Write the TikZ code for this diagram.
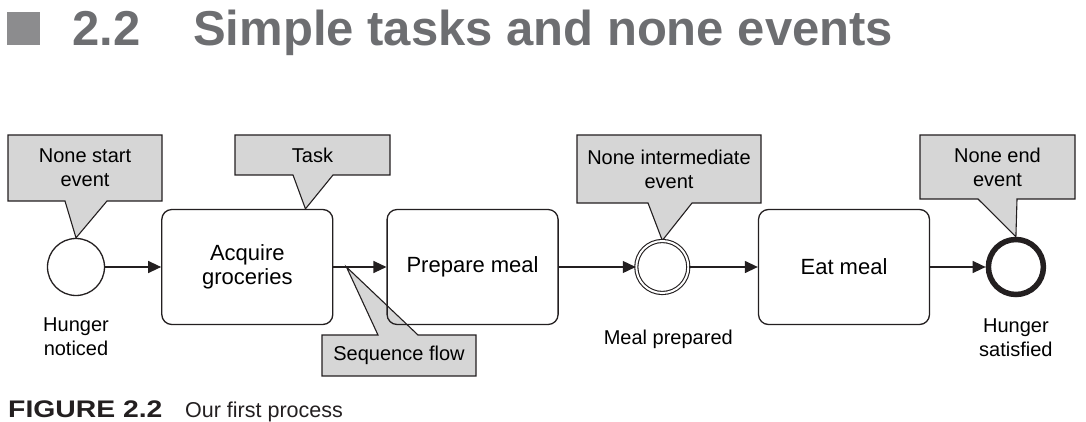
\documentclass[tikz,border=0pt]{standalone}
\usepackage{fontspec}
\setmainfont{Liberation Sans}
\newfontfamily\capbold[FakeStretch=1.18]{Liberation Sans Bold}
\usetikzlibrary{arrows.meta, positioning, backgrounds}
\usepackage{xcolor}

\definecolor{ink}{HTML}{231F20}
\definecolor{notegray}{HTML}{D6D6D6}
\definecolor{titlegray}{HTML}{6D6E71}
\definecolor{squaregray}{HTML}{8C8C8E}

\begin{document}
\begin{tikzpicture}[
        x=1pt, y=1pt,
        % Box styles
        taskbox/.style={rectangle, draw=ink, line width=1.3pt, rounded corners=10pt, minimum width=171pt, minimum height=115pt, align=center, font=\fontsize{22}{24.5}\selectfont},
        startev/.style={circle, draw=ink, line width=1.3pt, minimum size=57pt, inner sep=0pt},
        midev/.style={circle, draw=ink, line width=1.1pt, double, double distance=2pt, minimum size=52pt, inner sep=0pt},
        endev/.style={circle, draw=ink, line width=5.5pt, minimum size=55pt, inner sep=0pt},
        notebox/.style={rectangle, inner sep=0pt, outer sep=0pt, align=center, font=\fontsize{20}{24}\selectfont},
        notefill/.style={fill=notegray, draw=ink, line width=1.1pt, line join=miter},
        evlabel/.style={align=center, inner sep=0pt, font=\fontsize{20}{24}\selectfont},
        arrow/.style={draw=ink, line width=1.3pt, -{Triangle[length=13pt, width=12pt]}}
    ]
    \useasboundingbox (0,0) rectangle (1086,-422);

    % --- TITLE ---
    \node (sq) [fill=squaregray, minimum size=33pt, inner sep=0pt] at (23.5,-29) {};
    \node (num) [anchor=base west, inner sep=0pt, text=titlegray, font=\fontsize{49}{52}\selectfont\bfseries] at (72,-46) {2.2};
    \node (title) [anchor=base west, inner sep=0pt, text=titlegray, font=\fontsize{49}{52}\selectfont\bfseries] at (193,-46) {Simple tasks and none events};

    % --- PROCESS FLOW ---
    \node (start) [startev] at (76,-267) {};
    \node (acquire) [taskbox, right=56pt of start] {Acquire\\groceries};
    \node (prepare) [taskbox, right=53pt of acquire] {Prepare meal};
    \node (mid) [midev, right=77pt of prepare] {};
    \node (eat) [taskbox, right=69pt of mid] {Eat meal};
    \node (end) [endev, right=55.5pt of eat] {};

    % --- EVENT LABELS ---
    \node (lstart) [evlabel, below=21pt of start] {Hunger\\noticed};
    \node (lmid) [evlabel, below=36pt of mid, xshift=6pt] {Meal prepared};
    \node (lend) [evlabel, below=21pt of end] {Hunger\\satisfied};

    % --- CALLOUTS ---
    \node (cstart) [notebox, minimum width=154pt, minimum height=66pt] at (85,-168) {None start\\event};
    \node (ctask) [notebox, minimum width=155pt, minimum height=40pt] at (312.5,-155) {Task};
    \node (cseq) [notebox, minimum width=154pt, minimum height=41pt] at (399,-355.5) {Sequence flow};
    \node (cmid) [notebox, minimum width=184pt, minimum height=68pt] at (669,-169) {None intermediate\\event};
    \node (cend) [notebox, minimum width=155pt, minimum height=64pt] at (997.5,-167) {None end\\event};

    \begin{scope}[on background layer]
        \draw [notefill] (cstart.north west) -- (cstart.north east) -- (cstart.south east)
            -- ([xshift=22pt]cstart.south) -- (start.north) -- ([xshift=-20pt]cstart.south)
            -- (cstart.south west) -- cycle;
        \draw [notefill] (ctask.north west) -- (ctask.north east) -- (ctask.south east)
            -- ([xshift=20.5pt]ctask.south) -- ([xshift=-28pt]acquire.north east) -- ([xshift=-19.5pt]ctask.south)
            -- (ctask.south west) -- cycle;
        \draw [notefill] (cseq.south west) -- (cseq.south east) -- (cseq.north east)
            -- ([xshift=19pt]cseq.north) -- ([xshift=13pt]acquire.east) -- ([xshift=-21pt]cseq.north)
            -- (cseq.north west) -- cycle;
        \draw [notefill] (cmid.north west) -- (cmid.north east) -- (cmid.south east)
            -- ([xshift=23pt]cmid.south) -- (mid.north) -- ([xshift=-21pt]cmid.south)
            -- (cmid.south west) -- cycle;
        \draw [notefill] (cend.north west) -- (cend.north east) -- (cend.south east)
            -- ([xshift=19.5pt]cend.south) -- (end.north) -- ([xshift=-19.5pt]cend.south)
            -- (cend.south west) -- cycle;
    \end{scope}

    % --- SEQUENCE FLOWS ---
    \draw [arrow] (start) -- (acquire);
    \draw [arrow] (acquire) -- (prepare);
    \draw [arrow] (prepare) -- (mid);
    \draw [arrow] (mid) -- (eat);
    \draw [arrow] (eat) -- (end);

    % --- CAPTION ---
    \node (fig) [anchor=base west, inner sep=0pt, text=ink, font=\fontsize{24}{26}\capbold] at (8,-417) {FIGURE 2.2};
    \node (caption) [anchor=base west, inner sep=0pt, text=ink, font=\fontsize{21.5}{26}\selectfont] at (185,-417) {Our first process};

\end{tikzpicture}
\end{document}
